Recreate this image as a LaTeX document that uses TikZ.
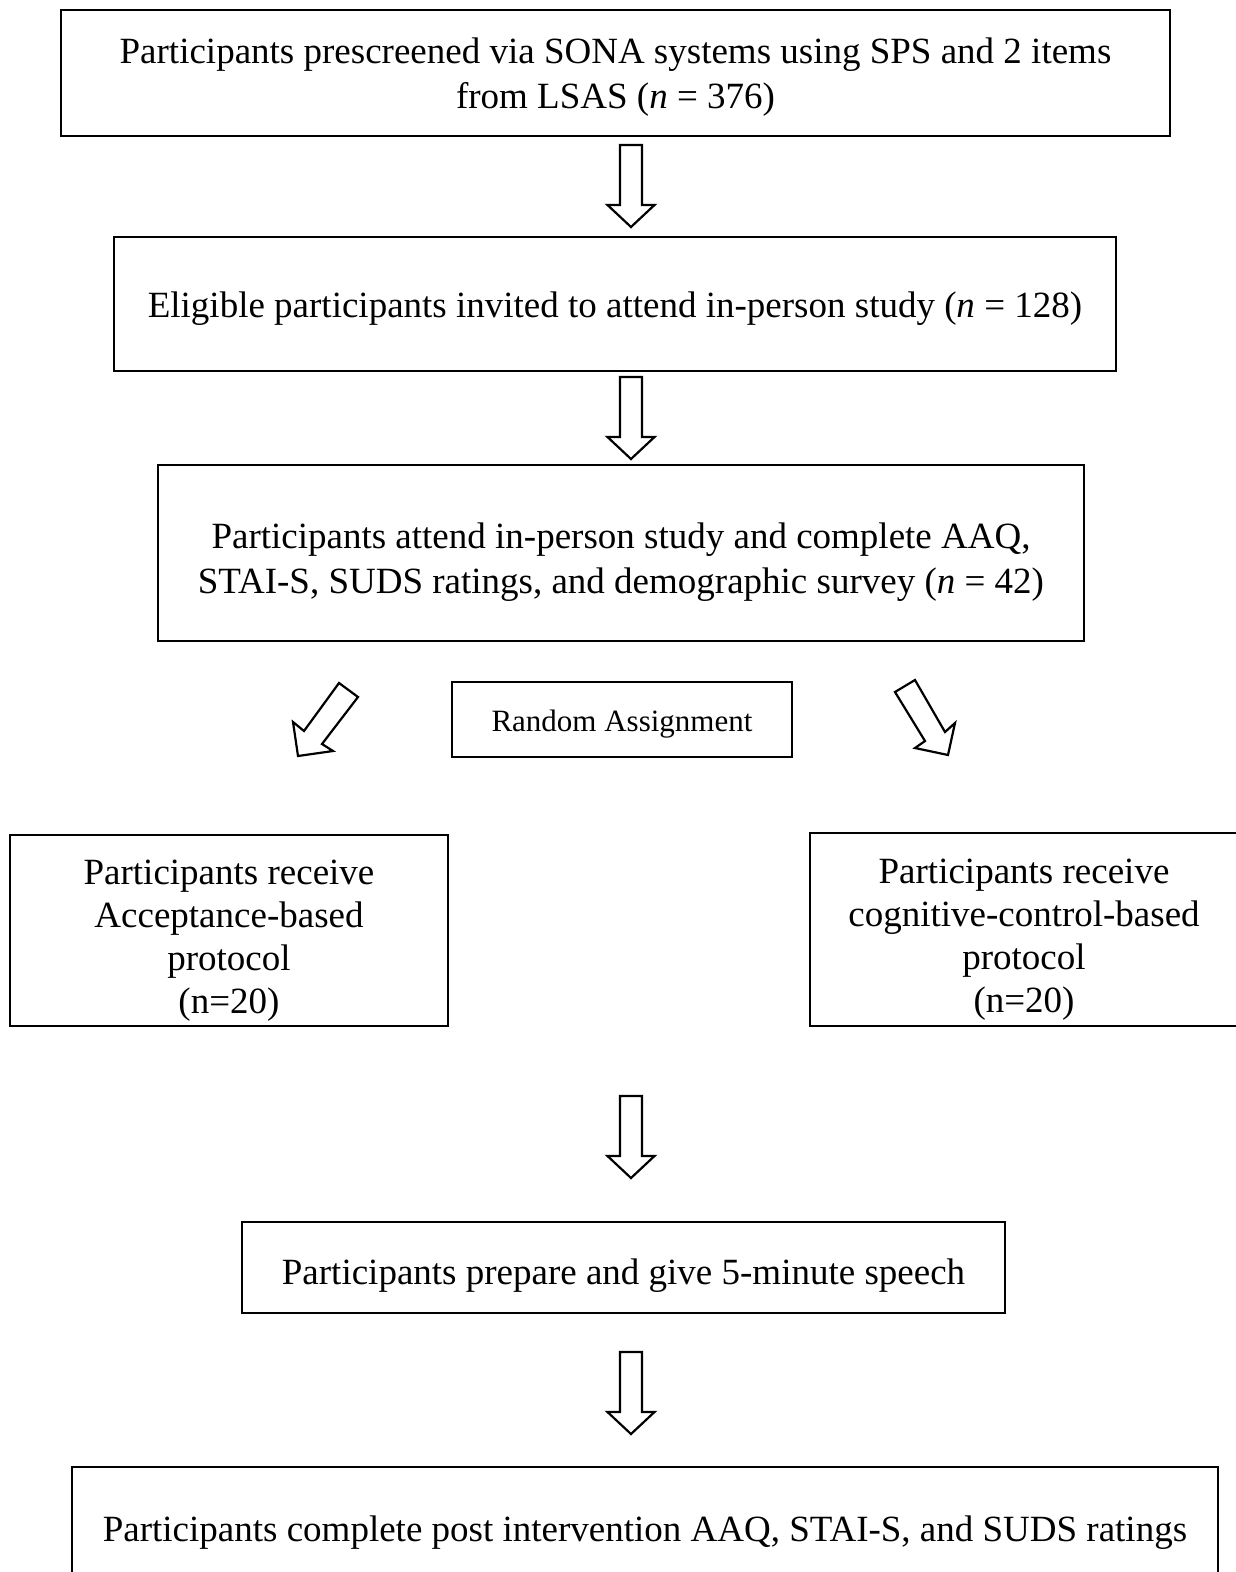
\documentclass[tikz,border=0pt]{standalone}
\usepackage{fontspec}
\setmainfont{Liberation Serif}
\begin{document}
\begin{tikzpicture}[x=1pt,y=-1pt,
  box/.style={draw=black,line width=2.2pt,inner sep=0pt},
  txt/.style={align=center,inner sep=0pt,font=\fontsize{37}{44.5}\selectfont},
  txtfour/.style={txt,font=\fontsize{37}{43}\selectfont},
  txtsmall/.style={txt,font=\fontsize{31}{36}\selectfont},
  blk/.style={draw=black,line width=2.2pt,line join=miter,fill=white}]
\useasboundingbox (0,0) rectangle (1235,1572);
% frames
\node[box,minimum width=1109pt,minimum height=126pt] (b1) at (615.5,73) {};
\node[box,minimum width=1002pt,minimum height=134pt] (b2) at (615,304) {};
\node[box,minimum width=926pt,minimum height=176pt] (b3) at (621,553) {};
\node[box,minimum width=340pt,minimum height=75pt] (ra) at (622,719.5) {};
\node[box,minimum width=438pt,minimum height=191pt] (bl) at (229,930.5) {};
\node[box,minimum width=428pt,minimum height=193pt] (br) at (1024,929.5) {};
\node[box,minimum width=763pt,minimum height=91pt] (sp) at (623.5,1267.5) {};
\node[box,minimum width=1146pt,minimum height=116pt] (fin) at (645,1525) {};
% texts
\node[txt] (t1) at ([yshift=-4pt]b1.center)
  {Participants prescreened via SONA systems using SPS and 2 items\\from LSAS (\textit{n} = 376)};
\node[txt] (t2) at ([yshift=-5pt]b2.center)
  {Eligible participants invited to attend in-person study (\textit{n} = 128)};
\node[txt] (t3) at ([yshift=-9pt]b3.center)
  {Participants attend in-person study and complete AAQ,\\STAI-S, SUDS ratings, and demographic survey (\textit{n} = 42)};
\node[txtsmall] (tra) at ([yshift=-5pt]ra.center) {Random Assignment};
\node[txtfour] (tbl) at ([yshift=-10pt]bl.center)
  {Participants receive\\Acceptance-based\\protocol\\(n=20)};
\node[txtfour] (tbr) at ([yshift=-10pt]br.center)
  {Participants receive\\cognitive-control-based\\protocol\\(n=20)};
\node[txt] (tsp) at ([yshift=-8pt]sp.center)
  {Participants prepare and give 5-minute speech};
\node[txt] (tfin) at ([yshift=-8pt]fin.center)
  {Participants complete post intervention AAQ, STAI-S, and SUDS ratings};
% block arrows
\coordinate (a1) at (631,145);
\coordinate (a2) at (631,377);
\coordinate (a3) at (631,1096);
\coordinate (a4) at (631,1352);
\foreach \a in {a1,a2,a3,a4}{
  \draw[blk] (\a) ++(-11,0) -- ++(22,0) -- ++(0,60) -- ++(12.5,0) -- ++(-23.5,22)
    -- ++(-23.5,-22) -- ++(12.5,0) -- cycle;
}
\draw[blk] (339,683) -- (358,697) -- (322,744) -- (333,751) -- (298,756)
  -- (293,722) -- (304,731) -- cycle;
\draw[blk] (915,680) -- (895,692) -- (925,741) -- (915,748) -- (948,755)
  -- (955,723) -- (945,732) -- cycle;
\end{tikzpicture}
\end{document}
